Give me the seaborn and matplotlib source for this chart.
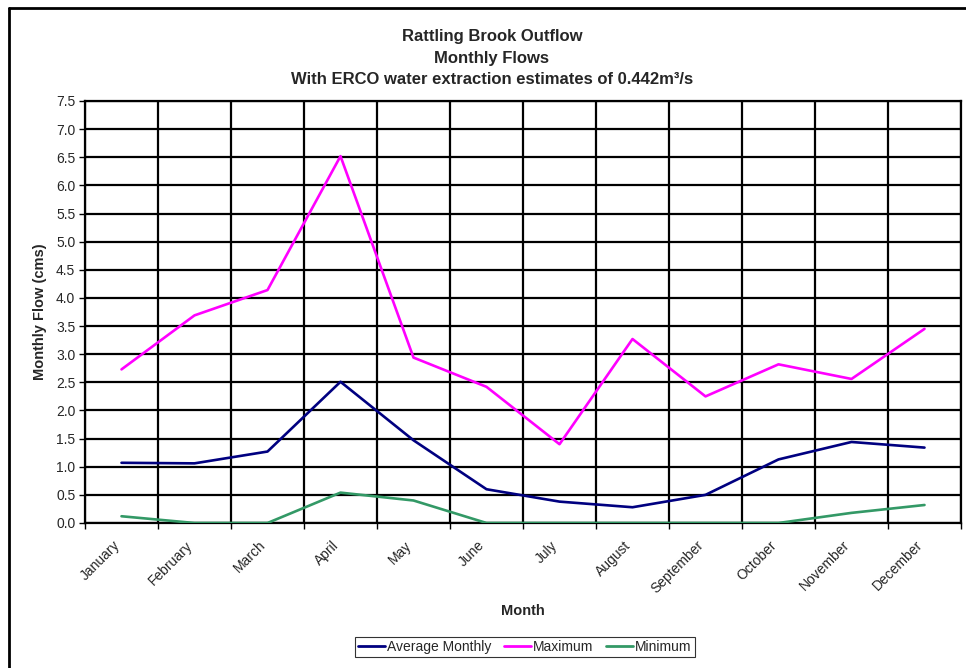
import matplotlib
matplotlib.use("Agg")
import matplotlib.pyplot as plt
from matplotlib.lines import Line2D
from matplotlib.ticker import MultipleLocator, FixedLocator, FormatStrFormatter
import numpy as np
import pandas as pd
import seaborn as sns

months = ["January", "February", "March", "April", "May", "June", "July",
          "August", "September", "October", "November", "December"]
average_monthly = [1.07, 1.06, 1.27, 2.51, 1.47, 0.60, 0.38, 0.28, 0.50, 1.13, 1.44, 1.34]
maximum = [2.73, 3.69, 4.14, 6.52, 2.94, 2.42, 1.40, 3.27, 2.25, 2.82, 2.56, 3.45]
minimum = [0.12, 0.0, 0.0, 0.54, 0.40, 0.0, 0.0, 0.0, 0.0, 0.0, 0.18, 0.32]

series_names = ["Average Monthly", "Maximum", "Minimum"]
series_colors = ["#000080", "#FF00FF", "#339966"]

df = pd.DataFrame({
    "Month": months * 3,
    "pos": list(range(12)) * 3,
    "Flow": average_monthly + maximum + minimum,
    "Series": [s for s in series_names for _ in months],
})

sns.set_style("white")
plt.rcParams["font.family"] = ["Liberation Sans", "DejaVu Sans"]

fig = plt.figure(figsize=(9.66, 6.68), dpi=100)
ax = fig.add_axes([85 / 966, 1 - 523 / 668, (961 - 85) / 966, (523 - 101) / 668])

sns.lineplot(data=df, x="pos", y="Flow", hue="Series", hue_order=series_names,
             palette=series_colors, linewidth=1.9, legend=False, ax=ax, zorder=3)

ax.set_xlim(-0.5, 11.5)
ax.set_ylim(0, 7.5)

# rotated month labels (tick marks hidden) sit just left of each category centre;
# visible ticks and vertical grid lines mark the category boundaries
ax.xaxis.set_major_locator(FixedLocator(np.arange(12) - 0.12))
ax.set_xticklabels(months, rotation=45, ha="right", va="top",
                   rotation_mode="anchor", fontsize=10)
ax.xaxis.set_minor_locator(FixedLocator(np.arange(-0.5, 12, 1)))
ax.tick_params(axis="x", which="major", length=0, pad=11)
ax.tick_params(axis="x", which="minor", length=4, width=1, color="black",
               bottom=True)
ax.grid(True, axis="x", which="minor", color="black", linewidth=1.6)

ax.yaxis.set_major_locator(MultipleLocator(0.5))
ax.yaxis.set_major_formatter(FormatStrFormatter("%.1f"))
ax.tick_params(axis="y", which="major", length=4, width=1, color="black",
               left=True, labelsize=10, pad=3)
ax.grid(True, axis="y", which="major", color="black", linewidth=1.6)

for sp in ax.spines.values():
    sp.set_color("black")
    sp.set_linewidth(1.6)
ax.set_axisbelow(True)

ax.set_xlabel("Month", fontsize=10.5, fontweight="bold")
ax.set_ylabel("Monthly Flow (cms)", fontsize=10.5, fontweight="bold")
ax.xaxis.set_label_coords(0.5, -(604 - 523) / 422)
ax.yaxis.set_label_coords(-(85 - 47) / 876, 0.5)

# chart title block
cx = 492 / 966
for ypx, line in [(37, "Rattling Brook Outflow"), (58, "Monthly Flows"),
                  (80, "With ERCO water extraction estimates of 0.442m³/s")]:
    fig.text(cx, 1 - ypx / 668, line, ha="center", va="center",
             fontsize=12, fontweight="bold")

# outer chart frame
fig.add_artist(Line2D([9 / 966, 9 / 966], [0, 1 - 8 / 668], color="black",
                      linewidth=2, transform=fig.transFigure))
fig.add_artist(Line2D([9 / 966, 1], [1 - 8 / 668, 1 - 8 / 668], color="black",
                      linewidth=2, transform=fig.transFigure))

handles = [Line2D([], [], color=c, linewidth=2) for c in series_colors]
leg = fig.legend(handles, series_names, loc="center",
                 bbox_to_anchor=(525 / 966, 1 - 647 / 668), ncol=3, fontsize=10,
                 frameon=True, fancybox=False, edgecolor="black",
                 handlelength=1.9, handletextpad=0.2, columnspacing=0.9,
                 borderpad=0.25)
leg.get_frame().set_linewidth(0.8)

fig.savefig("out.png", dpi=100)
